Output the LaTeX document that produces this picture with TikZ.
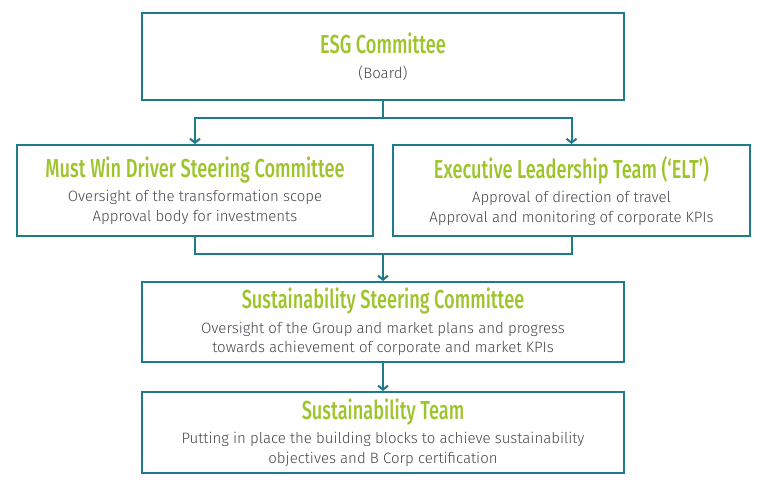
\documentclass[tikz,border=0pt]{standalone}
\usepackage{fontspec}
\usetikzlibrary{arrows.meta}
\newfontfamily\titlefont[FakeStretch=0.7]{Fira Sans Medium}
\newfontfamily\bodyfont{Fira Sans Light}
\definecolor{teal}{HTML}{1E7B89}
\definecolor{lime}{HTML}{9DC42A}
\definecolor{body}{HTML}{45454B}
\newcommand{\ttl}[1]{{\titlefont\color{lime}\fontsize{26}{24}\selectfont #1}}

\begin{document}
\begin{tikzpicture}[x=1pt,y=-1pt]
\tikzstyle{recti}=[rectangle,draw=teal,line width=2pt,align=center,inner sep=0pt,text=body,font=\bodyfont\fontsize{15}{19.5}\selectfont]
\tikzstyle{link}=[draw=teal,line width=2pt]
\tikzstyle{arr}=[link,-{Straight Barb[length=4pt,width=10pt]}]
\useasboundingbox (0,0) rectangle (768,498);
\node [recti,minimum width=482pt,minimum height=87pt] (esg) at (383,56.5) {\ttl{ESG Committee}\\[5pt](Board)};
\node [recti,minimum width=356pt,minimum height=91pt] (mwd) at (195,190.5) {\ttl{Must Win Driver Steering Committee}\\[5pt]Oversight of the transformation scope\\Approval body for investments};
\node [recti,minimum width=357pt,minimum height=91pt] (elt) at (571.5,190.5) {\ttl{Executive Leadership Team (‘ELT’)}\\[5pt]Approval of direction of travel\\Approval and monitoring of corporate KPIs};
\node [recti,minimum width=482pt,minimum height=80pt] (ssc) at (383,322) {\ttl{Sustainability Steering Committee}\\[5pt]Oversight of the Group and market plans and progress\\towards achievement of corporate and market KPIs};
\node [recti,minimum width=482pt,minimum height=81pt] (team) at (383,432.5) {\ttl{Sustainability Team}\\[5pt]Putting in place the building blocks to achieve sustainability\\objectives and B Corp certification};
\coordinate (top) at (383,118);
\coordinate (mid) at (383,254);
\draw [link] (esg.south) -- (top);
\draw [arr] (top) -| (mwd.north);
\draw [arr] (top) -| (elt.north);
\draw [link] (mwd.south) |- (mid) -| (elt.south);
\draw [arr] (mid) -- (ssc.north);
\draw [arr] (ssc.south) -- (team.north);
\end{tikzpicture}
\end{document}
